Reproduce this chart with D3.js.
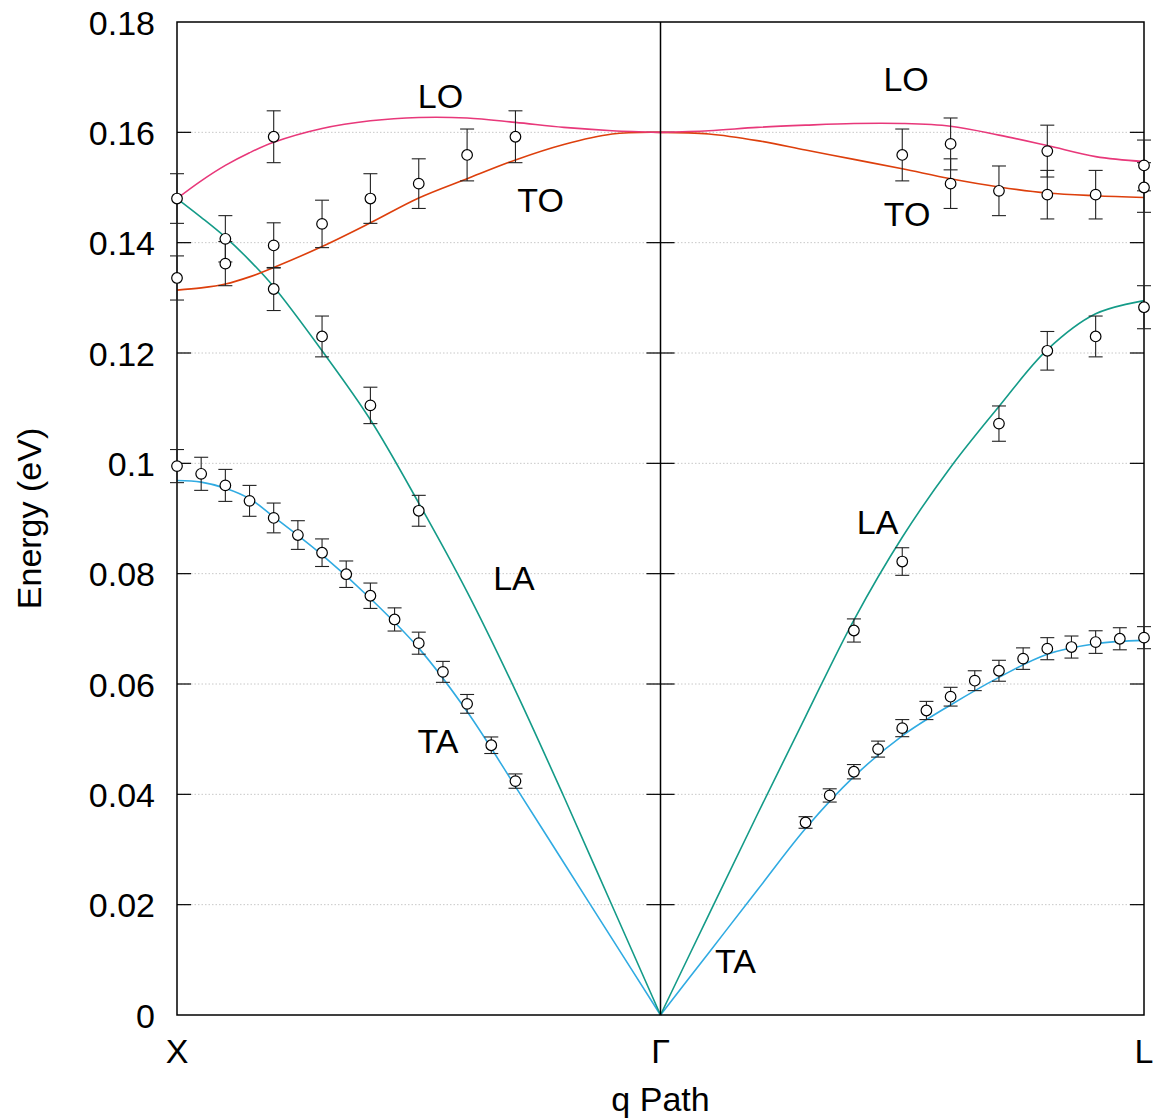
<!DOCTYPE html>
<html>
<head>
<meta charset="utf-8">
<script src="https://cdn.jsdelivr.net/npm/d3@7"></script>
<style>
  body { margin: 0; background: #fff; }
  svg text { font-family: "Liberation Sans", Arial, sans-serif; fill: #000; }
</style>
</head>
<body>
<svg id="chart" width="1158" height="1120"></svg>
<script>
// ── Axis data ──
const pathTicks = [0, 1, 2];
const pathLabels = ["X", "Γ", "L"];
const energyTicks = [0, 0.02, 0.04, 0.06, 0.08, 0.1, 0.12, 0.14, 0.16, 0.18];
const energyLabels = ["0", "0.02", "0.04", "0.06", "0.08", "0.1", "0.12", "0.14", "0.16", "0.18"];

// ── Model curves, X → Γ ──
const xgQ  = [0, 0.05, 0.1, 0.15, 0.2, 0.3, 0.4, 0.5, 0.6, 0.7, 0.8, 0.9, 1.0];
const xgTA = [0.0969, 0.0966, 0.0955, 0.0936, 0.0903, 0.0834, 0.0755, 0.0665, 0.0550, 0.0414, 0.0276, 0.0138, 0];
const xgLA = [0.1480, 0.1446, 0.1410, 0.1368, 0.1320, 0.1204, 0.1079, 0.0928, 0.0767, 0.0588, 0.0396, 0.0198, 0];
const xgTO = [0.1314, 0.1318, 0.1325, 0.1338, 0.1355, 0.1393, 0.1436, 0.1481, 0.1516, 0.1550, 0.1578, 0.1597, 0.1600];
const xgLO = [0.1480, 0.1512, 0.1540, 0.1563, 0.1582, 0.1607, 0.1621, 0.1627, 0.1626, 0.1618, 0.1609, 0.1603, 0.1600];

// ── Model curves, Γ → L ──
const glQ  = [1.0, 1.1, 1.2, 1.3, 1.4, 1.5, 1.6, 1.7, 1.8, 1.9, 2.0];
const glTA = [0, 0.0113, 0.0226, 0.0338, 0.0432, 0.0506, 0.0562, 0.0612, 0.0654, 0.0673, 0.0679];
const glLA = [0, 0.0182, 0.0363, 0.0541, 0.0716, 0.0866, 0.0993, 0.1103, 0.1206, 0.1271, 0.1295];
const glTO = [0.1600, 0.1597, 0.1585, 0.1568, 0.1551, 0.1534, 0.1516, 0.1501, 0.1490, 0.1485, 0.1482];
const glLO = [0.1600, 0.1603, 0.1609, 0.1613, 0.1616, 0.1616, 0.1611, 0.1595, 0.1576, 0.1556, 0.1547];

// ── Measured points (q, energy, error) ──
const obsQ = [
  0, 0.05, 0.1, 0.15, 0.2, 0.25, 0.3, 0.35, 0.4, 0.45, 0.5, 0.55, 0.6, 0.65, 0.7,
  0, 0.1, 0.2, 0.3, 0.4, 0.5,
  0, 0.1, 0.2, 0.3, 0.4, 0.5, 0.6, 0.7, 0.2,
  1.3, 1.35, 1.4, 1.45, 1.5, 1.55, 1.6, 1.65, 1.7, 1.75, 1.8, 1.85, 1.9, 1.95, 2.0,
  1.4, 1.5, 1.7, 1.8, 1.9, 2.0,
  1.5, 1.6, 1.6, 1.7, 1.8, 1.8, 1.9, 2.0, 2.0
];
const obsE = [
  0.0995, 0.0981, 0.0960, 0.0932, 0.0901, 0.0870, 0.0838, 0.0799, 0.0760, 0.0717, 0.0674, 0.0622, 0.0564, 0.0489, 0.0424,
  0.1480, 0.1407, 0.1316, 0.1230, 0.1105, 0.0914,
  0.1336, 0.1362, 0.1395, 0.1434, 0.1480, 0.1507, 0.1559, 0.1592, 0.1592,
  0.0349, 0.0398, 0.0441, 0.0482, 0.0520, 0.0552, 0.0577, 0.0606, 0.0624, 0.0646, 0.0664, 0.0667, 0.0676, 0.0682, 0.0684,
  0.0697, 0.0822, 0.1072, 0.1204, 0.1230, 0.1283,
  0.1559, 0.1579, 0.1507, 0.1494, 0.1566, 0.1487, 0.1487, 0.1540, 0.1500
];
const obsErr = [
  0.0030, 0.0030, 0.0029, 0.0028, 0.0027, 0.0026, 0.0025, 0.0024, 0.0023, 0.0021, 0.0020, 0.0019, 0.0017, 0.0015, 0.0013,
  0.0045, 0.0042, 0.0039, 0.0037, 0.0033, 0.0028,
  0.0040, 0.0040, 0.0041, 0.0043, 0.0045, 0.0045, 0.0047, 0.0047, 0.0047,
  0.00105, 0.0012, 0.0013, 0.00145, 0.00155, 0.00165, 0.0017, 0.0018, 0.0019, 0.00195, 0.0020, 0.0020, 0.00205, 0.0020, 0.0020,
  0.0021, 0.0025, 0.0032, 0.0035, 0.0037, 0.0039,
  0.0047, 0.0047, 0.0045, 0.0045, 0.0047, 0.0044, 0.0044, 0.0046, 0.0045
];

// ── Branch labels ──
const branchNames = ["LO", "LO", "TO", "TO", "LA", "LA", "TA", "TA"];
const branchLabelQ = [0.545, 1.508, 0.752, 1.51, 0.697, 1.449, 0.54, 1.155];
const branchLabelE = [0.1644, 0.1675, 0.1455, 0.1430, 0.0770, 0.0872, 0.0475, 0.0076];

const colors = { TA: "#30abe2", LA: "#149b88", TO: "#dd3f0c", LO: "#e8387a" };

const svg = d3.select("#chart");
const margin = { left: 177, right: 14, top: 22, bottom: 105 };
const W = 1158, H = 1120;

const x = d3.scaleLinear().domain([0, 2]).range([margin.left, W - margin.right]);
const y = d3.scaleLinear().domain([0, 0.18]).range([H - margin.bottom, margin.top]);

// Grid
svg.append("g")
  .selectAll("line")
  .data(energyTicks.slice(1, -1))
  .join("line")
  .attr("x1", x(0)).attr("x2", x(2))
  .attr("y1", d => y(d)).attr("y2", d => y(d))
  .attr("stroke", "#c8c8c8")
  .attr("stroke-width", 1)
  .attr("stroke-dasharray", "1.5,2");

// Ticks (inward on left/right, both sides at Γ)
const tickLen = 14;
const ticks = svg.append("g").attr("stroke", "#000").attr("stroke-width", 1.2);
energyTicks.slice(1, -1).forEach(t => {
  ticks.append("line").attr("x1", x(0)).attr("x2", x(0) + tickLen).attr("y1", y(t)).attr("y2", y(t));
  ticks.append("line").attr("x1", x(2)).attr("x2", x(2) - tickLen).attr("y1", y(t)).attr("y2", y(t));
  ticks.append("line").attr("x1", x(1) - tickLen).attr("x2", x(1) + tickLen).attr("y1", y(t)).attr("y2", y(t));
});

// Curves
const line = d3.line()
  .x(d => x(d[0]))
  .y(d => y(d[1]))
  .curve(d3.curveCatmullRom.alpha(0.5));

const curves = [
  [xgQ, xgTA, "TA"], [xgQ, xgLA, "LA"], [xgQ, xgTO, "TO"], [xgQ, xgLO, "LO"],
  [glQ, glTA, "TA"], [glQ, glLA, "LA"], [glQ, glTO, "TO"], [glQ, glLO, "LO"]
];
svg.append("g")
  .selectAll("path")
  .data(curves)
  .join("path")
  .attr("d", d => line(d[0].map((q, i) => [q, d[1][i]])))
  .attr("fill", "none")
  .attr("stroke", d => colors[d[2]])
  .attr("stroke-width", 1.6);

// Frame and Γ line
svg.append("rect")
  .attr("x", x(0)).attr("y", y(0.18))
  .attr("width", x(2) - x(0)).attr("height", y(0) - y(0.18))
  .attr("fill", "none").attr("stroke", "#000").attr("stroke-width", 1.5);
svg.append("line")
  .attr("x1", x(1)).attr("x2", x(1))
  .attr("y1", y(0)).attr("y2", y(0.18))
  .attr("stroke", "#000").attr("stroke-width", 1.5);

// Error bars and points
const obs = obsQ.map((q, i) => ({ q, e: obsE[i], err: obsErr[i] }));
const capW = 7;
const bars = svg.append("g").attr("stroke", "#222").attr("stroke-width", 1.1);
obs.forEach(d => {
  const cx = x(d.q), y1 = y(d.e + d.err), y2 = y(d.e - d.err);
  bars.append("line").attr("x1", cx).attr("x2", cx).attr("y1", y1).attr("y2", y2);
  bars.append("line").attr("x1", cx - capW).attr("x2", cx + capW).attr("y1", y1).attr("y2", y1);
  bars.append("line").attr("x1", cx - capW).attr("x2", cx + capW).attr("y1", y2).attr("y2", y2);
});
svg.append("g")
  .selectAll("circle")
  .data(obs)
  .join("circle")
  .attr("cx", d => x(d.q))
  .attr("cy", d => y(d.e))
  .attr("r", 5.3)
  .attr("fill", "#fff")
  .attr("stroke", "#000")
  .attr("stroke-width", 1.2);

// Tick labels
svg.append("g")
  .selectAll("text")
  .data(energyTicks)
  .join("text")
  .attr("x", x(0) - 22)
  .attr("y", d => y(d))
  .attr("dy", "0.37em")
  .attr("text-anchor", "end")
  .attr("font-size", 34)
  .text((d, i) => energyLabels[i]);

svg.append("g")
  .selectAll("text")
  .data(pathTicks)
  .join("text")
  .attr("x", d => x(d))
  .attr("y", y(0) + 48)
  .attr("text-anchor", "middle")
  .attr("font-size", 34)
  .text((d, i) => pathLabels[i]);

// Axis titles
svg.append("text")
  .attr("x", (x(0) + x(2)) / 2)
  .attr("y", H - 9)
  .attr("text-anchor", "middle")
  .attr("font-size", 34)
  .text("q Path");

svg.append("text")
  .attr("transform", `translate(41, ${(y(0) + y(0.18)) / 2}) rotate(-90)`)
  .attr("text-anchor", "middle")
  .attr("font-size", 34)
  .text("Energy (eV)");

// Branch labels
svg.append("g")
  .selectAll("text")
  .data(branchNames)
  .join("text")
  .attr("x", (d, i) => x(branchLabelQ[i]))
  .attr("y", (d, i) => y(branchLabelE[i]))
  .attr("text-anchor", "middle")
  .attr("font-size", 34)
  .text(d => d);
</script>
</body>
</html>
